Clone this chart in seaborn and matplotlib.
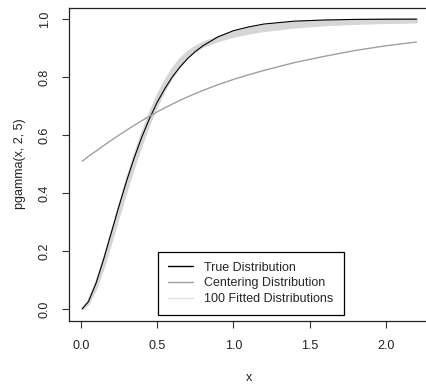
import matplotlib
matplotlib.use("Agg")
import matplotlib.pyplot as plt
import seaborn as sns

x_grid = [0.01, 0.05, 0.1, 0.15, 0.2, 0.25, 0.3, 0.35, 0.4, 0.45, 0.5, 0.55, 0.6,
          0.65, 0.7, 0.75, 0.8, 0.9, 1.0, 1.1, 1.2, 1.4, 1.6, 1.8, 2.0, 2.2]

true_dist = [0.001, 0.026, 0.090, 0.173, 0.264, 0.355, 0.442, 0.522, 0.594, 0.657,
             0.713, 0.760, 0.801, 0.835, 0.864, 0.888, 0.908, 0.939, 0.960, 0.973,
             0.983, 0.993, 0.997, 0.999, 0.9995, 0.9998]

centering_dist = [0.510, 0.527, 0.545, 0.564, 0.582, 0.600, 0.617, 0.634, 0.650,
                  0.665, 0.680, 0.694, 0.707, 0.720, 0.732, 0.743, 0.754, 0.774,
                  0.792, 0.808, 0.823, 0.850, 0.872, 0.892, 0.908, 0.921]

fitted_dists = [
    [0.001, 0.024, 0.085, 0.166, 0.256, 0.348, 0.438, 0.522, 0.598, 0.665, 0.724, 0.774, 0.816,
     0.850, 0.876, 0.896, 0.911, 0.932, 0.948, 0.959, 0.968, 0.979, 0.986, 0.990, 0.993, 0.995],
    [0.001, 0.020, 0.075, 0.150, 0.236, 0.325, 0.412, 0.494, 0.570, 0.640, 0.702, 0.755, 0.800,
     0.838, 0.868, 0.890, 0.905, 0.925, 0.940, 0.951, 0.960, 0.972, 0.980, 0.985, 0.988, 0.990],
    [0.001, 0.022, 0.080, 0.158, 0.246, 0.338, 0.428, 0.512, 0.588, 0.655, 0.714, 0.765, 0.808,
     0.843, 0.871, 0.893, 0.909, 0.930, 0.945, 0.957, 0.966, 0.978, 0.985, 0.989, 0.992, 0.994],
    [0.001, 0.023, 0.083, 0.163, 0.252, 0.344, 0.436, 0.522, 0.601, 0.671, 0.732, 0.783, 0.826,
     0.860, 0.885, 0.903, 0.917, 0.937, 0.953, 0.965, 0.974, 0.986, 0.992, 0.995, 0.997, 0.998],
    [0.001, 0.019, 0.072, 0.146, 0.232, 0.322, 0.410, 0.494, 0.572, 0.642, 0.705, 0.760, 0.806,
     0.845, 0.874, 0.894, 0.908, 0.927, 0.942, 0.954, 0.963, 0.975, 0.982, 0.986, 0.989, 0.991],
    [0.001, 0.025, 0.087, 0.169, 0.259, 0.351, 0.440, 0.523, 0.597, 0.662, 0.720, 0.770, 0.812,
     0.847, 0.874, 0.894, 0.910, 0.935, 0.952, 0.965, 0.975, 0.987, 0.993, 0.996, 0.998, 0.999],
    [0.001, 0.021, 0.078, 0.155, 0.242, 0.332, 0.420, 0.503, 0.580, 0.648, 0.708, 0.760, 0.804,
     0.842, 0.872, 0.894, 0.910, 0.931, 0.946, 0.958, 0.967, 0.980, 0.987, 0.991, 0.994, 0.996],
]

x_ticks = [0.0, 0.5, 1.0, 1.5, 2.0]
y_ticks = [0.0, 0.2, 0.4, 0.6, 0.8, 1.0]

sns.set_style("white")
plt.rcParams["font.family"] = ["Liberation Sans", "DejaVu Sans"]

fig = plt.figure(figsize=(4.26, 3.85), dpi=100)
ax = fig.add_axes([0.162, 0.167, 0.847, 0.8135])

for vals in fitted_dists:
    sns.lineplot(x=x_grid, y=vals, color="#d6d6d6", linewidth=2.0, ax=ax)
sns.lineplot(x=x_grid, y=true_dist, color="black", linewidth=0.8, ax=ax)
sns.lineplot(x=x_grid, y=centering_dist, color="#a0a0a0", linewidth=1.0, ax=ax)

lines = ax.get_lines()
handles = [lines[-2], lines[-1], lines[0]]
labels = ["True Distribution", "Centering Distribution", "100 Fitted Distributions"]
leg = ax.legend(handles, labels, loc="lower center", bbox_to_anchor=(0.504, 0.018),
                borderaxespad=0, fancybox=False, frameon=True, fontsize=9,
                handlelength=2.0, handletextpad=0.9, labelspacing=0.3, borderpad=0.8)
leg.get_frame().set_edgecolor("black")
leg.get_frame().set_linewidth(0.9)
leg.get_frame().set_alpha(1)
for h in leg.get_lines():
    h.set_linewidth(1.0)
leg.get_lines()[2].set_color("#e2e2e2")

ax.set_xlim(-0.0776, 2.2876)
ax.set_ylim(-0.04, 1.04)
ax.set_xticks(x_ticks)
ax.set_xticklabels([f"{v:.1f}" for v in x_ticks])
ax.set_yticks(y_ticks)
ax.set_yticklabels([f"{v:.1f}" for v in y_ticks], rotation=90, va="center")
ax.tick_params(axis="both", direction="out", length=5, width=0.8, color="#333333",
               labelsize=9, labelcolor="#222222", left=True, bottom=True)
ax.tick_params(axis="x", pad=9)
ax.tick_params(axis="y", pad=8)

for s in ax.spines.values():
    s.set_color("#222222")
    s.set_linewidth(0.9)

ax.set_xlabel("x", fontsize=9, color="#222222", labelpad=14)
ax.set_ylabel("pgamma(x, 2, 5)", fontsize=9, color="#222222", labelpad=9)

fig.savefig("out.png", dpi=100)
